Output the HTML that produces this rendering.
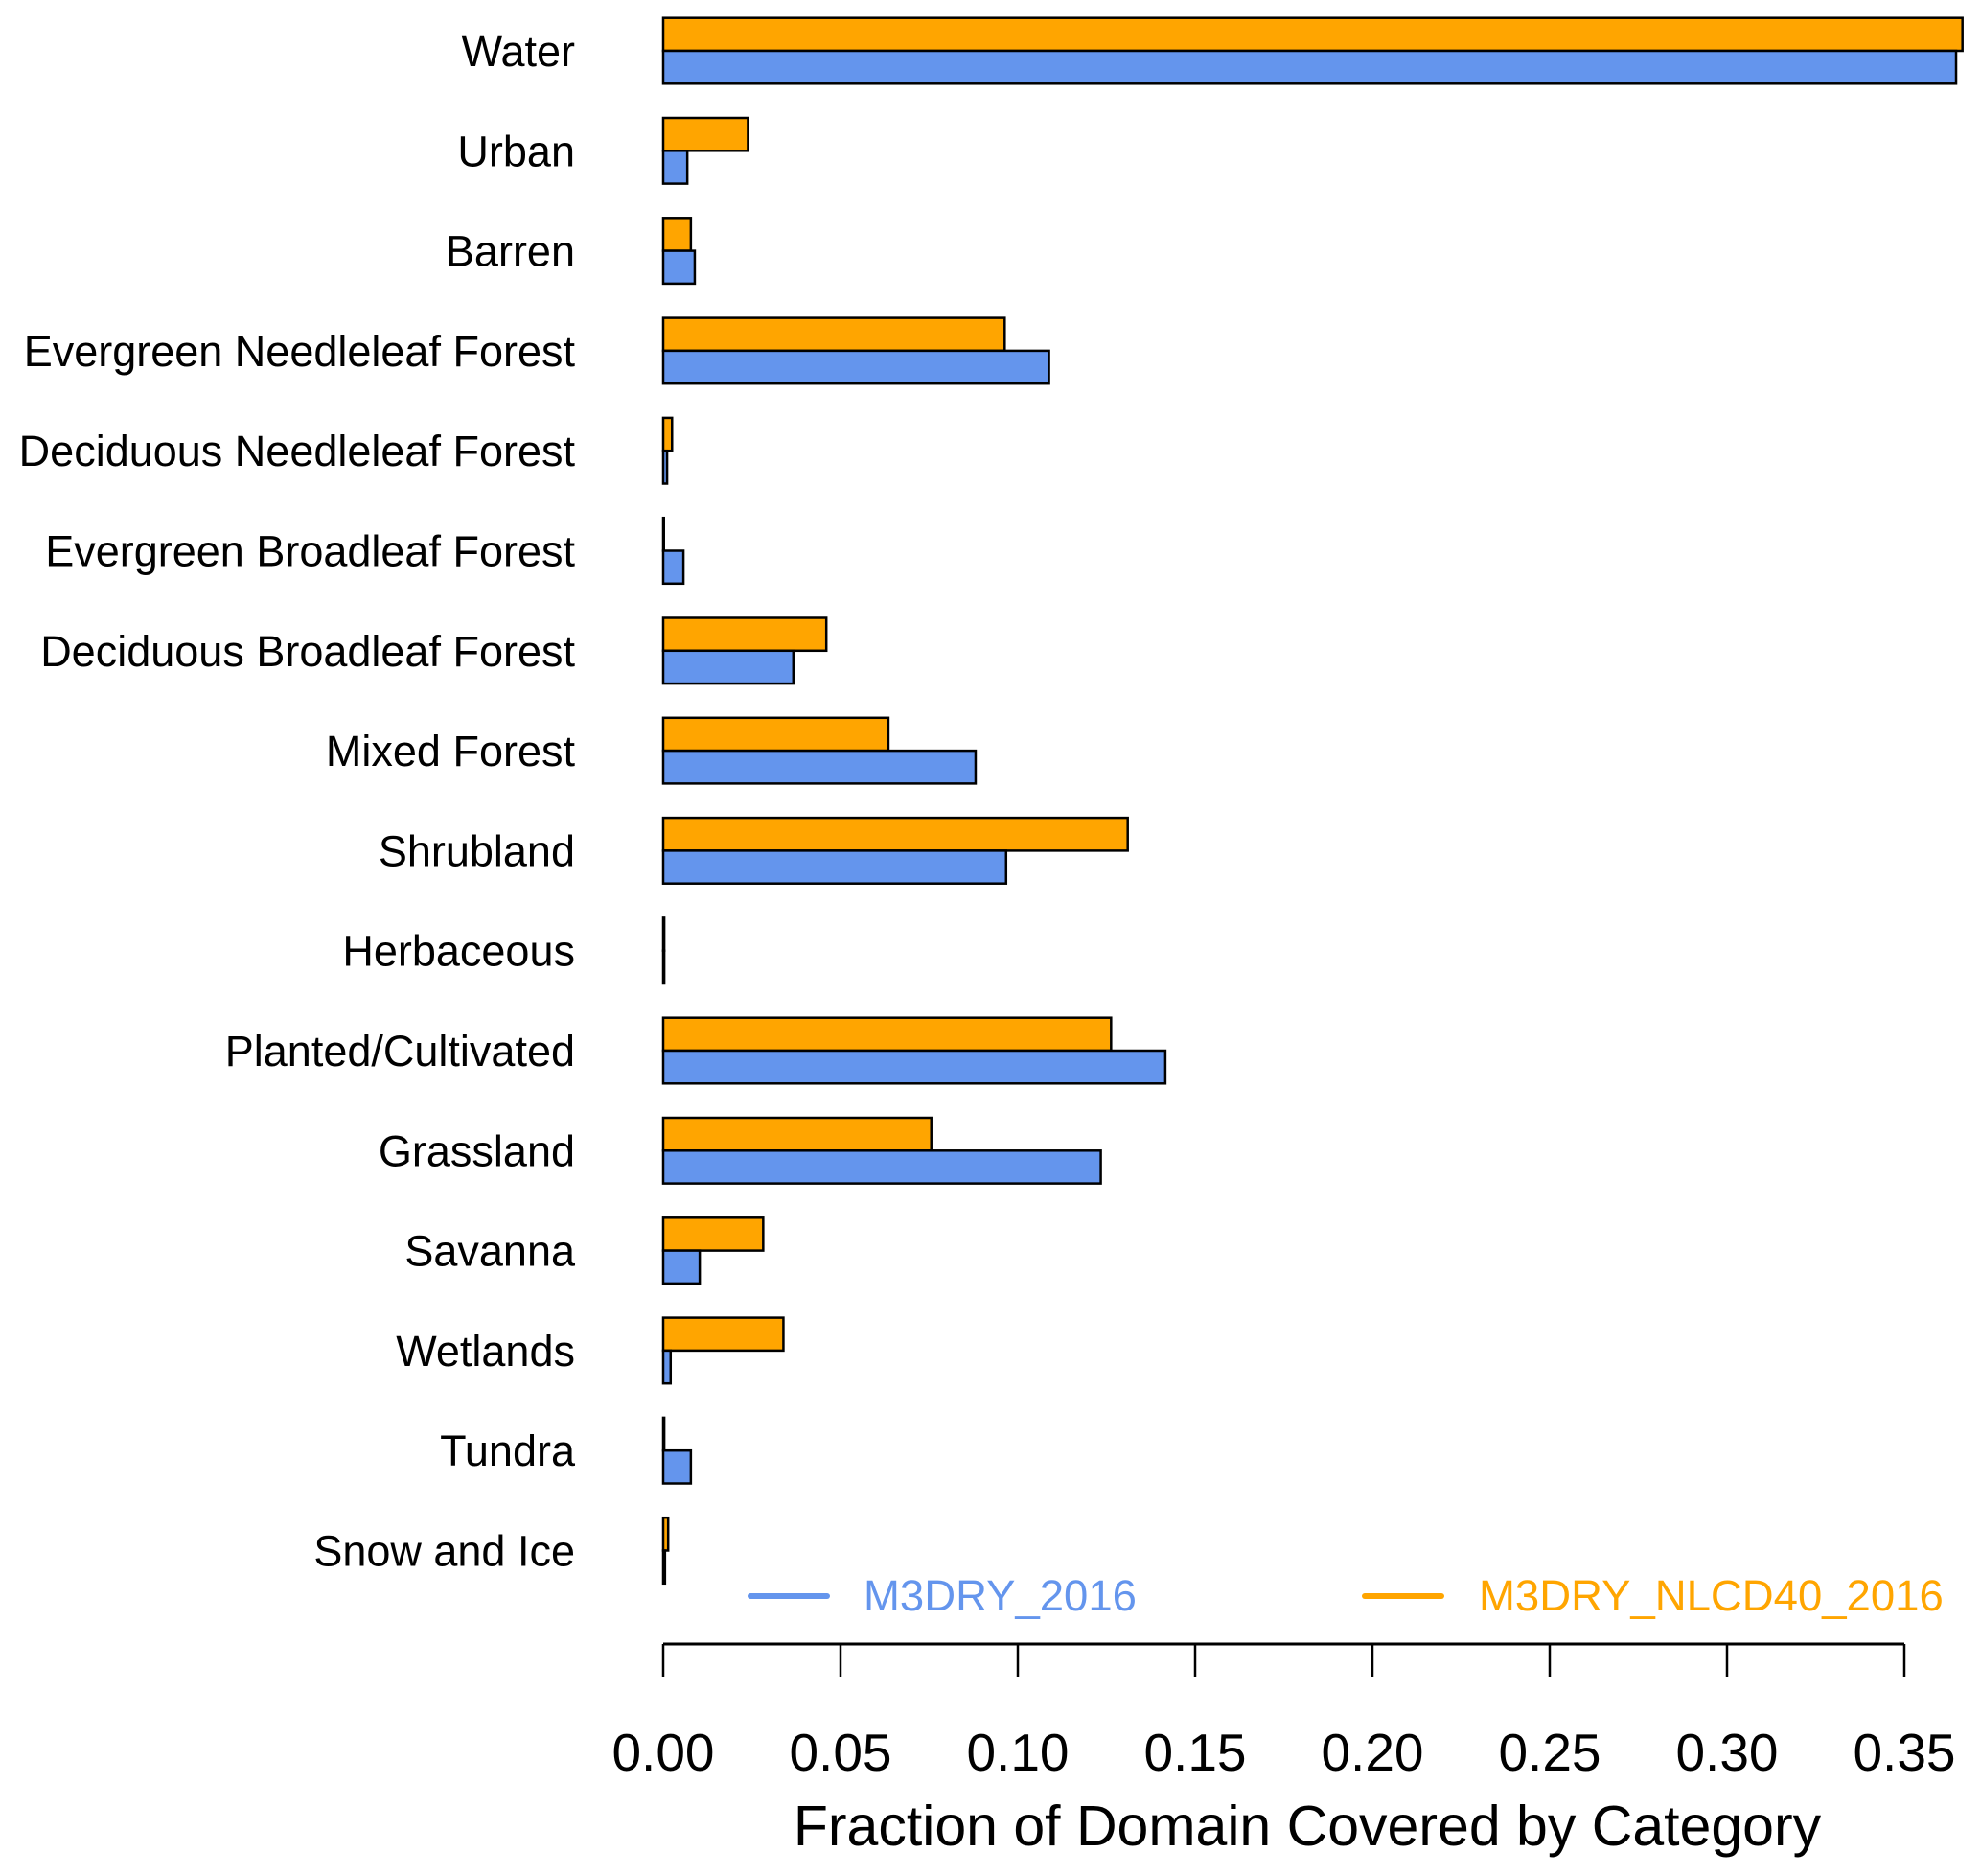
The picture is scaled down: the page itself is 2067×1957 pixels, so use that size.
<!DOCTYPE html>
<html><head><meta charset="utf-8"><style>
html,body{margin:0;padding:0;background:#fff}
svg{display:block;font-family:"Liberation Sans",Arial,sans-serif}
</style></head><body>
<svg id="chart" width="2067" height="1957" viewBox="0 0 2067 1957" xmlns="http://www.w3.org/2000/svg">
<g id="bars"></g>
<g id="labels"></g>
<g id="axis"></g>
<text x="1364" y="1925" font-size="59" text-anchor="middle">Fraction of Domain Covered by Category</text>
<g>
<line x1="783" y1="1665" x2="863" y2="1665" stroke="#6495ED" stroke-width="6" stroke-linecap="round"/>
<text x="901" y="1680" font-size="45.5" fill="#6495ED">M3DRY_2016</text>
<line x1="1424" y1="1665" x2="1504" y2="1665" stroke="#FFA500" stroke-width="6" stroke-linecap="round"/>
<text x="1543" y="1680" font-size="45.5" fill="#FFA500">M3DRY_NLCD40_2016</text>
</g>
</svg>
<script>
const categories = ["Water","Urban","Barren","Evergreen Needleleaf Forest","Deciduous Needleleaf Forest","Evergreen Broadleaf Forest","Deciduous Broadleaf Forest","Mixed Forest","Shrubland","Herbaceous","Planted/Cultivated","Grassland","Savanna","Wetlands","Tundra","Snow and Ice"];
const m3dry2016 = [0.3646,0.0068,0.0089,0.1088,0.0011,0.0057,0.0367,0.0881,0.0967,0.0003,0.1416,0.1234,0.0103,0.0021,0.0078,0.0005];
const m3dryNlcd40 = [0.3664,0.0239,0.0078,0.0963,0.0025,0.0002,0.0460,0.0635,0.1310,0.0003,0.1263,0.0756,0.0282,0.0339,0.0003,0.0014];
const ticks = [0,0.05,0.10,0.15,0.20,0.25,0.30,0.35];
const tickLabels = ["0.00","0.05","0.10","0.15","0.20","0.25","0.30","0.35"];

const NS = "http://www.w3.org/2000/svg";
const x0 = 692, x1 = 1987, xmax = 0.35;
const xs = v => x0 + v / xmax * (x1 - x0);
const yc = i => 53 + i * 104.3;
const bh = 34.3;
const bars = document.getElementById('bars');
const labels = document.getElementById('labels');
const axis = document.getElementById('axis');
function mk(tag, attrs){const e=document.createElementNS(NS,tag);for(const k in attrs)e.setAttribute(k,attrs[k]);return e;}
categories.forEach((c,i)=>{
  const slug=c.toLowerCase().replace(/[^a-z]+/g,'-');
  const o=mk('rect',{x:x0,y:yc(i)-bh,width:Math.max(xs(m3dryNlcd40[i])-x0,0.5),height:bh,fill:'#FFA500',stroke:'#000','stroke-width':2.5});
  
  
  bars.appendChild(o);
  const b=mk('rect',{x:x0,y:yc(i),width:Math.max(xs(m3dry2016[i])-x0,0.5),height:bh,fill:'#6495ED',stroke:'#000','stroke-width':2.5});
  
  
  bars.appendChild(b);
  const t=mk('text',{x:600,y:yc(i)+16,'font-size':45,'text-anchor':'end'});
  t.textContent=c;
  
  
  labels.appendChild(t);
});
const al=mk('line',{x1:x0,y1:1715,x2:x1,y2:1715,stroke:'#000','stroke-width':3});


axis.appendChild(al);
ticks.forEach((v,i)=>{
  const l=mk('line',{x1:xs(v),y1:1715,x2:xs(v),y2:1749,stroke:'#000','stroke-width':2.5});
  
  
  axis.appendChild(l);
  const t=mk('text',{x:xs(v),y:1847,'font-size':55,'text-anchor':'middle'});
  t.textContent=tickLabels[i];
  
  
  axis.appendChild(t);
});
</script>
</body></html>
